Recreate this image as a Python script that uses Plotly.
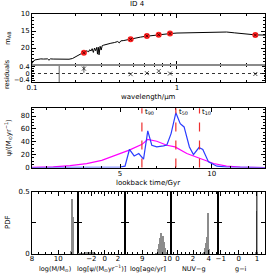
import plotly.graph_objects as go

# ---------------- data ----------------
spec_wl = [0.100, 0.102, 0.105, 0.110, 0.115, 0.120, 0.128, 0.131, 0.134, 0.140, 0.150, 0.160, 0.170,
           0.180, 0.190, 0.200, 0.210, 0.220, 0.230, 0.240, 0.245, 0.250, 0.255, 0.260, 0.265, 0.270,
           0.275, 0.280, 0.283, 0.287, 0.290, 0.295, 0.300, 0.305, 0.310, 0.320, 0.330, 0.350, 0.370,
           0.390, 0.400, 0.410, 0.430, 0.450, 0.480, 0.520, 0.560, 0.600, 0.650, 0.700, 0.750, 0.800,
           0.900, 1.000, 1.200, 1.500, 1.900, 2.200, 2.500, 3.000, 3.500, 4.100]
spec_mag = [24.6, 23.9, 23.5, 23.3, 23.2, 23.25, 23.2, 23.6, 23.2, 23.25, 23.3, 23.3, 23.35,
            23.3, 23.1, 22.5, 22.0, 21.6, 21.2, 20.8, 21.2, 20.5, 20.9, 20.2, 21.3, 20.0,
            20.8, 19.8, 21.8, 19.8, 22.0, 19.5, 20.6, 19.3, 19.2, 19.0, 18.8, 18.6, 18.4,
            18.1, 18.5, 17.9, 17.8, 17.6, 17.4, 17.1, 16.8, 16.6, 16.4, 16.2, 16.05, 15.95,
            15.75, 15.6, 15.5, 15.35, 15.25, 15.3, 15.55, 15.95, 16.15, 16.2]

phot_wl = [0.228, 0.479, 0.62, 0.748, 0.895, 3.47]
phot_mag = [21.4, 17.45, 16.45, 16.1, 15.75, 16.2]

res_wl = [0.154, 0.228, 0.479, 0.62, 0.748, 0.895, 3.47]
res_val = [0.0, 0.30, -0.04, 0.02, 0.15, 0.0, -0.03]
res_err = [1.0, 0.25, 0.0, 0.0, 0.0, 0.0, 0.0]
res_show = [0, 4, 4, 4, 4, 4, 4]

sfh_t = [0.2, 1.0, 2.0, 3.0, 4.0, 5.0, 5.27, 5.51, 5.77, 6.02, 6.28, 6.51, 6.73, 7.0, 7.37, 7.55,
         7.78, 8.04, 8.28, 8.49, 8.78, 9.0, 9.3, 9.51, 9.82, 10.28, 10.8, 11.5, 12.9]
sfh_psi = [0.0, 0.0, 0.0, 0.0, 0.0, 0.5, 2.0, 28.0, 18.0, 21.7, 13.0, 57.0, 34.6, 32.0, 33.5, 35.0,
           52.7, 85.0, 68.0, 63.0, 32.0, 20.0, 31.0, 28.0, 8.7, 2.0, 0.5, 0.0, 0.0]

avg_t = [0.2, 1.36, 2.27, 3.18, 4.0, 4.8, 5.5, 6.2, 6.5, 7.0, 7.55, 8.0, 8.64, 9.37, 10.1, 10.8, 11.55, 12.9]
avg_psi = [0.3, 1.0, 3.0, 6.0, 11.0, 19.0, 27.0, 36.0, 43.5, 40.8, 34.6, 32.0, 21.7, 14.0, 6.2, 2.0, 0.5, 0.0]

t_marks = [6.19, 8.04, 9.33]
t_labels = ["t<sub>90</sub>", "t<sub>50</sub>", "t<sub>10</sub>"]

mass_x = [10.95, 11.0, 11.05, 11.1, 11.15]
mass_p = [0.03, 0.22, 0.44, 0.30, 0.03]
sfr_x = [-3.8, -3.6, -3.4, -3.2, -3.0, -2.8, -2.6, -2.4, -2.2, -2.0, -1.8, -1.6, -1.4]
sfr_p = [0.012, 0.013, 0.012, 0.014, 0.013, 0.015, 0.016, 0.017, 0.016, 0.018, 0.015, 0.012, 0.006]
age_x = [9.55, 9.6, 9.65, 9.7, 9.75, 9.8, 9.85, 9.9, 9.95]
age_p = [0.01, 0.04, 0.08, 0.13, 0.17, 0.15, 0.10, 0.05, 0.02]
nuvg_x = [3.3, 3.4, 3.5, 3.6, 3.7, 3.8, 3.9, 4.0, 4.1]
nuvg_p = [0.01, 0.02, 0.03, 0.05, 0.09, 0.14, 0.26, 0.33, 0.04]
gi_x = [0.94, 0.97, 1.0]
gi_p = [0.02, 0.35, 0.02]
gi_obs = 1.0

hist_labels = ["log(M/M<sub>⊙</sub>)", "log[ψ/(M<sub>⊙</sub>yr<sup>−1</sup>)]", "log[age/yr]", "NUV−g", "g−i"]

# ---------------- figure ----------------
FONT = "DejaVu Sans"
fig = go.Figure()

fig.add_trace(go.Scatter(x=spec_wl, y=spec_mag, mode="lines", line=dict(color="black", width=1),
                         xaxis="x", yaxis="y", showlegend=False))
fig.add_trace(go.Scatter(x=phot_wl, y=phot_mag, mode="markers",
                         marker=dict(color="#ff2020", size=6, line=dict(width=0)),
                         xaxis="x", yaxis="y", showlegend=False))
fig.add_trace(go.Scatter(x=phot_wl, y=phot_mag, mode="markers",
                         marker=dict(color="#600000", size=3, symbol="x-thin", line=dict(width=1, color="#600000")),
                         xaxis="x", yaxis="y", showlegend=False))

fig.add_trace(go.Scatter(x=res_wl, y=res_val, mode="markers",
                         error_y=dict(type="data", array=res_err, color="#333", thickness=0.8, width=0),
                         marker=dict(color="black", size=res_show, symbol="x-thin", line=dict(width=1, color="black")),
                         xaxis="x2", yaxis="y2", showlegend=False))

fig.add_trace(go.Scatter(x=avg_t, y=avg_psi, mode="lines", line=dict(color="#ff00ff", width=1.2),
                         xaxis="x3", yaxis="y3", showlegend=False))
fig.add_trace(go.Scatter(x=sfh_t, y=sfh_psi, mode="lines", line=dict(color="#2a3cff", width=1.2),
                         xaxis="x3", yaxis="y3", showlegend=False))

hist_data = [(mass_x, mass_p, 0.05), (sfr_x, sfr_p, 0.2), (age_x, age_p, 0.05),
             (nuvg_x, nuvg_p, 0.1), (gi_x, gi_p, 0.03)]
for i, (hx, hp, w) in enumerate(hist_data):
    n = i + 4
    fig.add_trace(go.Bar(x=hx, y=hp, width=w, marker=dict(color="#8c8c8c", line=dict(width=0)),
                         xaxis=f"x{n}", yaxis=f"y{n}", showlegend=False))

def ax(**kw):
    d = dict(showline=True, linecolor="black", linewidth=1, mirror="allticks", ticks="inside",
             ticklen=4, tickcolor="black", tickwidth=1, showgrid=False, zeroline=False,
             tickfont=dict(family=FONT, size=7, color="black"),
             minor=dict(ticks="inside", ticklen=2, tickcolor="black", showgrid=False))
    d.update(kw)
    return d

minor_log = dict(ticks="inside", ticklen=2, tickcolor="black", showgrid=False,
                 tickvals=[0.2, 0.3, 0.4, 0.5, 0.6, 0.7, 0.8, 0.9, 2, 3, 4])

def px_x(p):
    return (p - 32) / 233.0

def px_y(p):
    return (254 - p) / 240.0

top_y = [px_y(65), 1.0]
res_y = [px_y(82), px_y(65)]
sfh_y = [px_y(167.5), px_y(108.3)]
hist_y = [0.0, px_y(191.7)]
edges = [32, 78, 124.7, 171.3, 218, 265]

layout = dict(
    width=266, height=274, margin=dict(l=32, r=1, t=14, b=20),
    paper_bgcolor="white", plot_bgcolor="white", bargap=0,
    font=dict(family=FONT, size=7, color="black"),
    xaxis=ax(type="log", range=[-1, 0.607], domain=[0, 1], anchor="y", showticklabels=False,
             tickvals=[0.1, 1], minor=minor_log),
    yaxis=ax(range=[25, 10], domain=top_y, anchor="x", tickvals=[10, 15, 20],
             minor=dict(ticks="inside", ticklen=2, tickcolor="black", dtick=1)),
    xaxis2=ax(type="log", range=[-1, 0.607], domain=[0, 1], anchor="y2",
              tickvals=[0.1, 1], ticktext=["0.1", "1"], minor=minor_log, ticklabelstandoff=-1),
    yaxis2=ax(range=[-0.52, 0.52], domain=res_y, anchor="x2", tickvals=[-0.4, 0, 0.4],
              ticktext=["−0.4", "0", "0.4"], ticklen=3, tickfont=dict(family=FONT, size=6.5, color="black"),
              minor=dict(ticks="inside", ticklen=1.5, tickcolor="black", dtick=0.1)),
    xaxis3=ax(range=[0.2, 12.9], domain=[0, 1], anchor="y3", tickvals=[5, 10], ticklabelstandoff=-1,
              minor=dict(ticks="inside", ticklen=2, tickcolor="black", dtick=1)),
    yaxis3=ax(range=[0, 92], domain=sfh_y, anchor="x3", tickvals=[0, 20, 40, 60, 80],
              minor=dict(ticks="inside", ticklen=2, tickcolor="black", dtick=5)),
)

hist_ranges = [[8, 11.5], [-4, 3], [8.3, 10.15], [-0.8, 5.2], [-1.15, 1.45]]
hist_ticks = [[8, 10], [-2, 0, 2], [9, 10], [0, 2, 4], [-1, 0, 1]]
hist_minor = [0.5, 0.5, 0.2, 0.5, 0.25]
for i in range(5):
    n = i + 4
    layout[f"xaxis{n}"] = ax(range=hist_ranges[i], domain=[px_x(edges[i]), px_x(edges[i + 1])],
                             anchor=f"y{n}", tickvals=hist_ticks[i], ticklabelstandoff=-2,
                             ticktext=[str(v).replace("-", "−") for v in hist_ticks[i]],
                             minor=dict(ticks="inside", ticklen=2, tickcolor="black", dtick=hist_minor[i]))
    layout[f"yaxis{n}"] = ax(range=[0, 0.5], domain=hist_y, anchor=f"x{n}", tickvals=[0, 0.25, 0.5],
                             ticktext=["0", " ", "0.5"], showticklabels=(i == 0),
                             minor=dict(ticks="", showgrid=False))

fig.update_layout(**layout)

shapes = [
    dict(type="line", xref="x2 domain", yref="y2", x0=0, x1=1, y0=0, y1=0,
         line=dict(color="black", width=0.8, dash="dot")),
    dict(type="line", xref="x2 domain", yref="y2 domain", x0=0, x1=1, y0=1, y1=1,
         line=dict(color="#8a8a8a", width=2.2)),
    dict(type="line", xref="x8", yref="y8 domain", x0=gi_obs, x1=gi_obs, y0=0, y1=1,
         line=dict(color="black", width=1)),
]
for t in t_marks:
    shapes.append(dict(type="line", xref="x3", yref="y3 domain", x0=t, x1=t, y0=0, y1=1,
                       line=dict(color="#ee3030", width=1.2, dash="dash")))
fig.update_layout(shapes=shapes)

ann = []
def A(text, x, y, size=7, angle=0, xanchor="center", yanchor="middle", xref="paper", yref="paper"):
    ann.append(dict(text=text, x=x, y=y, xref=xref, yref=yref, showarrow=False, textangle=angle,
                    xanchor=xanchor, yanchor=yanchor, font=dict(family=FONT, size=size, color="black")))

A("ID 4", px_x(137), px_y(4), size=7)
A("m<sub>AB</sub>", px_x(8), px_y(38), angle=-90)
A("residuals", px_x(7), px_y(74), size=6.5, angle=-90)
A("wavelength/μm", px_x(148), px_y(97))
A("ψ/(M<sub>⊙</sub>yr<sup>−1</sup>)", px_x(8), px_y(138), angle=-90)
A("lookback time/Gyr", px_x(148), px_y(183))
A("PDF", px_x(8), px_y(222), angle=-90)
for lab, cx in zip(hist_labels, [55, 101, 148, 194, 241]):
    A(lab, px_x(cx), px_y(268.5), size=6.5)
for t, lab in zip(t_marks, t_labels):
    A(lab, t + 0.05, 0.93, xref="x3", yref="y3 domain", xanchor="left", yanchor="middle", size=7)

fig.update_layout(annotations=ann)
fig.write_html("out.html", config={"displayModeBar": False},
               post_script="document.body.style.margin='0';document.body.style.overflow='hidden';")
